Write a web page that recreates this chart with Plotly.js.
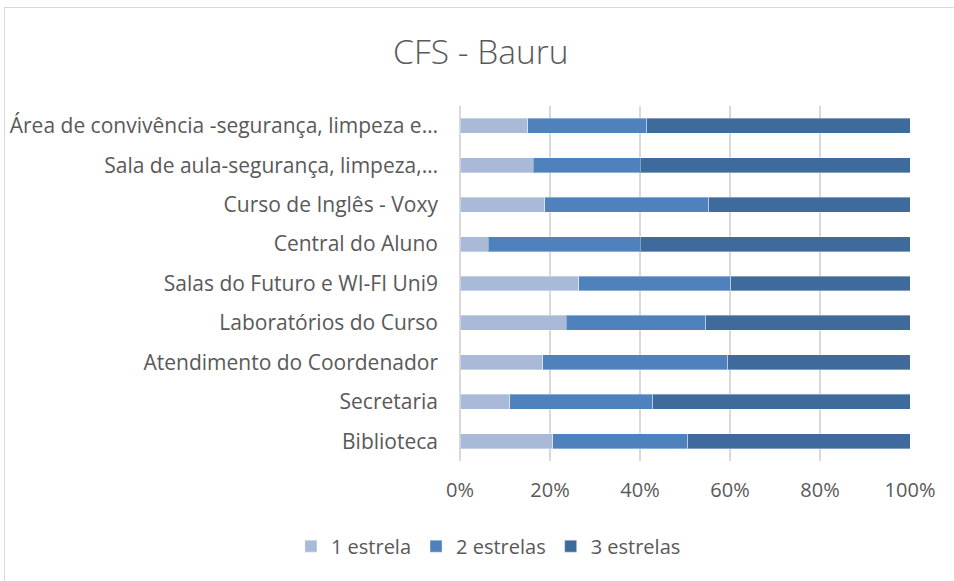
<!DOCTYPE html>
<html>
<head>
<meta charset="utf-8">
<script src="https://cdn.plot.ly/plotly-3.0.1.min.js"></script>
<style>
  html, body { margin: 0; padding: 0; background: #fff; }
  #wrap { position: relative; width: 954px; height: 581px; }
  #chart { position: absolute; left: 0; top: 0; width: 954px; height: 581px; }
  #frame { position: absolute; left: 4px; top: 7px; width: 952px; height: 580px;
           border: 1px solid #D9D9D9; box-sizing: border-box; pointer-events: none; }
</style>
</head>
<body>
<div id="wrap">
  <div id="chart"></div>
  <div id="frame"></div>
</div>
<script>
const categories = [
  "Área de convivência -segurança, limpeza e…",
  "Sala de aula-segurança, limpeza,…",
  "Curso de Inglês - Voxy",
  "Central do Aluno",
  "Salas do Futuro e WI-FI Uni9",
  "Laboratórios do Curso",
  "Atendimento do Coordenador",
  "Secretaria",
  "Biblioteca"
];
const seriesNames = ["1 estrela", "2 estrelas", "3 estrelas"];
const umaEstrela   = [15.0, 16.3, 18.8,  6.3, 26.4, 23.6, 18.4, 11.0, 20.6];
const duasEstrelas = [26.5, 23.8, 36.5, 33.8, 33.8, 31.0, 41.1, 31.8, 30.0];
const tresEstrelas = [58.5, 59.9, 44.7, 59.9, 39.8, 45.4, 40.5, 57.2, 49.4];
const xTickVals = [0, 20, 40, 60, 80, 100];

const colors = ["#A9B9D8", "#4F81BD", "#3E6A9C"];
const series = [umaEstrela, duasEstrelas, tresEstrelas];
const fontFamily = "'Open Sans', sans-serif";
const textColor = "#595959";

const traces = series.map((vals, i) => ({
  type: "bar",
  orientation: "h",
  name: seriesNames[i],
  y: categories,
  x: vals,
  marker: { color: colors[i], line: { color: "rgba(255,255,255,0.35)", width: 1 } },
  hoverinfo: "name+x"
}));

const layout = {
  width: 954,
  height: 581,
  margin: { l: 460, r: 43.5, t: 106, b: 120 },
  paper_bgcolor: "#fff",
  plot_bgcolor: "#fff",
  barmode: "stack",
  bargap: 0.62,
  font: { family: fontFamily, color: textColor },
  title: {
    text: "CFS - Bauru",
    font: { family: fontFamily, size: 33.5, color: textColor, weight: 300 },
    xref: "container", x: 0.504, xanchor: "center",
    yref: "container", y: 0.91, yanchor: "middle"
  },
  xaxis: {
    range: [0, 100],
    tickvals: xTickVals,
    ticktext: xTickVals.map(v => v + "%"),
    showgrid: true,
    gridcolor: "#D9D9D9",
    gridwidth: 1.3,
    zeroline: true,
    zerolinecolor: "#D9D9D9",
    zerolinewidth: 1.3,
    showline: false,
    ticks: "",
    ticklabelstandoff: 15,
    tickfont: { family: fontFamily, size: 20, color: textColor },
    fixedrange: true
  },
  yaxis: {
    type: "category",
    autorange: "reversed",
    showgrid: false,
    zeroline: false,
    showline: false,
    ticks: "",
    ticklabelstandoff: 21,
    tickfont: { family: fontFamily, size: 21, color: textColor },
    fixedrange: true
  },
  showlegend: true,
  legend: {
    orientation: "h",
    traceorder: "normal",
    xref: "container", x: 0.512, xanchor: "center",
    yref: "container", y: 0.06, yanchor: "middle",
    font: { family: fontFamily, size: 20, color: textColor },
    itemwidth: 30
  }
};

Plotly.newPlot("chart", traces, layout, { displayModeBar: false, staticPlot: true });
</script>
</body>
</html>
